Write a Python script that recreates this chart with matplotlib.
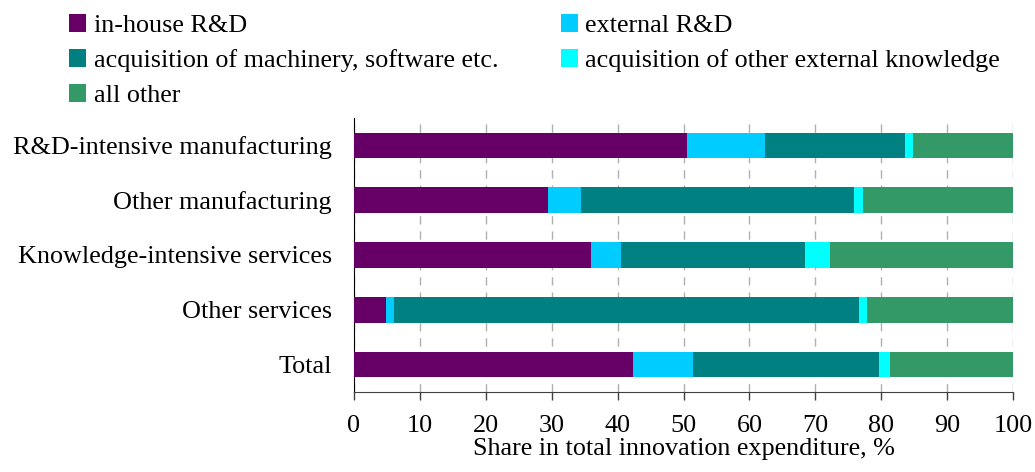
import matplotlib.pyplot as plt
import numpy as np

plt.rcParams['font.family'] = ['Liberation Serif', 'DejaVu Serif']

categories = ["R&D-intensive manufacturing", "Other manufacturing",
              "Knowledge-intensive services", "Other services", "Total"]
series_names = ["in-house R&D", "external R&D",
                "acquisition of machinery, software etc.",
                "acquisition of other external knowledge", "all other"]
inhouse_rd = [50.5, 29.4, 35.9, 4.8, 42.3]
external_rd = [11.8, 5.0, 4.6, 1.2, 9.1]
machinery = [21.3, 41.5, 27.9, 70.6, 28.2]
other_knowledge = [1.2, 1.3, 3.9, 1.2, 1.8]
all_other = [15.2, 22.8, 27.7, 22.2, 18.6]
xticks = list(range(0, 101, 10))

colors = ["#660066", "#00ccff", "#008080", "#00ffff", "#339966"]
series = [inhouse_rd, external_rd, machinery, other_knowledge, all_other]
FS = 18.8

fig = plt.figure(figsize=(10.35, 4.72), dpi=100)
ax = fig.add_axes([354 / 1035, 80 / 472, 659 / 1035, 274 / 472])

y = np.arange(len(categories))
left = np.zeros(len(categories))
handles = []
for name, vals, c in zip(series_names, series, colors):
    vals = np.array(vals)
    h = ax.barh(y, vals, left=left, height=0.47, color=c, label=name, zorder=3)
    handles.append(h)
    left += vals

ax.set_ylim(len(categories) - 0.5, -0.5)
ax.set_xlim(0, 100)
ax.set_yticks(y)
ax.set_yticklabels(categories, fontsize=FS)
ax.set_xticks(xticks)
ax.set_xticklabels([str(t) for t in xticks], fontsize=FS)
ax.tick_params(axis='y', length=0, pad=16)
ax.tick_params(axis='x', length=5.8, width=1, color='#404040', pad=11)
ax.set_xlabel("Share in total innovation expenditure, %", fontsize=FS, labelpad=0.5)

ax.grid(axis='x', color='#b0b0b0', linewidth=1, linestyle=(0, (6, 5)), zorder=0)
for s in ['top', 'right']:
    ax.spines[s].set_visible(False)
ax.spines['left'].set_color('black')
ax.spines['bottom'].set_color('#404040')

# legend fills column-wise, so reorder to get a row-wise layout
order = [0, 2, 4, 1, 3]
fig.legend([handles[i] for i in order], [series_names[i] for i in order],
           loc='upper left', bbox_to_anchor=(69 / 1035, 1 - 14 / 472), ncol=2,
           frameon=False, fontsize=FS, handlelength=0.66, handleheight=0.66,
           handletextpad=0.28, labelspacing=0.47, columnspacing=2.4,
           borderpad=0, borderaxespad=0)

fig.savefig("out.png", dpi=100)
